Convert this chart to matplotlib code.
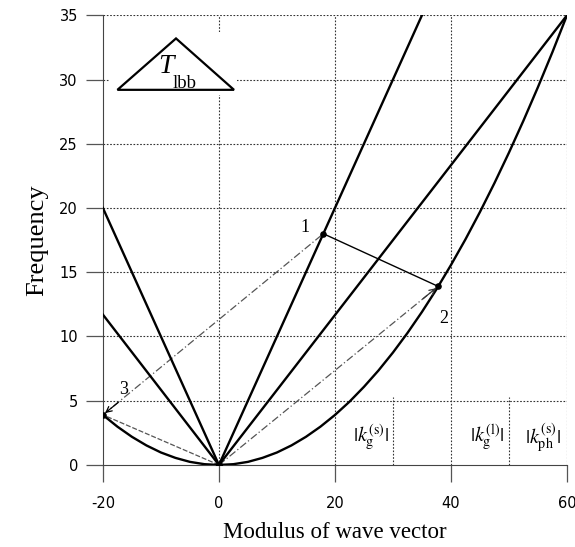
import matplotlib.pyplot as plt
from matplotlib.patches import Polygon, Rectangle

# dispersion branches
k_par = [-20, -17.5, -15, -12.5, -10, -7.5, -5, -2.5, 0, 2.5, 5, 7.5, 10, 12.5, 15, 17.5,
         20, 22.5, 25, 27.5, 30, 32.5, 35, 37.5, 40, 42.5, 45, 47.5, 50, 52.5, 55, 57.5, 60]
w_par = [3.89, 2.98, 2.19, 1.52, 0.97, 0.55, 0.24, 0.06, 0, 0.06, 0.24, 0.55, 0.97, 1.52,
         2.19, 2.98, 3.89, 4.92, 6.08, 7.35, 8.75, 10.27, 11.91, 13.67, 15.56, 17.56,
         19.69, 21.94, 24.31, 26.8, 29.41, 32.14, 35.0]
k_steep = [-20, 0, 35]
w_steep = [20, 0, 35]
k_mid = [-20, 0, 60]
w_mid = [11.7, 0, 35]

# triangle of interacting waves
pts_k = [18, 37.8, -20]
pts_w = [18, 13.9, 3.9]
pts_lab = ['1', '2', '3']

k_marks = [30, 50, 60]
k_mark_labels = [r'$|k_{\rm g}^{\rm (s)}|$', r'$|k_{\rm g}^{\rm (l)}|$', r'$|k_{\rm ph}^{\rm (s)}|$']

plt.rcParams['mathtext.fontset'] = 'stix'
plt.rcParams['axes.unicode_minus'] = False

fig = plt.figure(figsize=(5.75, 5.47), dpi=100)
ax = fig.add_axes([0.179, 0.150, 0.807, 0.822])
ax.set_xlim(-20, 60)
ax.set_ylim(0, 35)

# grid
for y in range(5, 36, 5):
    ax.plot([-20, 60], [y, y], color='#333333', lw=0.8, ls=(0, (1.5, 1.5)), zorder=1)
for x in [0, 20, 40, 60]:
    ax.plot([x, x], [0, 35], color='#333333', lw=0.8, ls=(0, (1.5, 1.5)), zorder=1)
for x in k_marks[:2]:
    ax.plot([x, x], [0, 5.3], color='#333333', lw=0.8, ls=(0, (1.5, 1.5)), zorder=1)

# curves
ax.plot(k_par, w_par, color='black', lw=1.7, zorder=3)
ax.plot(k_steep, w_steep, color='black', lw=1.7, zorder=3)
ax.plot(k_mid, w_mid, color='black', lw=1.7, zorder=3)

# triangle lines
ax.plot([pts_k[2], pts_k[0]], [pts_w[2], pts_w[0]], color='#555555', lw=0.9,
        ls=(0, (6, 2, 1, 2)), zorder=2)
ax.plot([pts_k[0], pts_k[1]], [pts_w[0], pts_w[1]], color='black', lw=1.0, zorder=2)
ax.plot([0, pts_k[1]], [0, pts_w[1]], color='#555555', lw=0.9,
        ls=(0, (6, 2, 1, 2)), zorder=2)
ax.plot([0, pts_k[2]], [0, pts_w[2]], color='#555555', lw=0.9,
        ls=(0, (4, 1.5)), zorder=2)
ax.annotate('', xy=(pts_k[2], pts_w[2]), xytext=(pts_k[2] + 3, pts_w[2] + 1.1),
            arrowprops=dict(arrowstyle='->', color='black', lw=0.9))
ax.annotate('', xy=(pts_k[1], pts_w[1]), xytext=(pts_k[1] - 3, pts_w[1] - 1.1),
            arrowprops=dict(arrowstyle='->', color='#333333', lw=0.9))

ax.scatter(pts_k, pts_w, s=14, color='black', zorder=4)
ax.scatter([0], [0], s=18, color='black', zorder=4)
lab_off = [(-3.2, 0.5), (1.0, -2.5), (3.5, 2.0)]
for xk, yw, lab, (dx, dy) in zip(pts_k, pts_w, pts_lab, lab_off):
    ax.text(xk + dx, yw + dy, lab, fontsize=13, family='Liberation Serif',
            ha='center', va='center')

# |k| labels
lab_x = [26.2, 46.2, 55.9]
for xk, lab in zip(lab_x, k_mark_labels):
    ax.text(xk, 2.1, lab, fontsize=14.5, ha='center', va='center')

# T_lbb triangle box
ax.add_patch(Rectangle((-18.9, 28.8), 22.0, 4.9, facecolor='white', edgecolor='none', zorder=2))
ax.add_patch(Polygon([(-17.5, 29.2), (-7.4, 33.2), (2.6, 29.2)], closed=True,
                     fill=False, edgecolor='black', lw=1.6, zorder=3))
ax.text(-9.2, 31.0, 'T', fontsize=20, family='Liberation Serif', style='italic',
        ha='center', va='center', zorder=4)
ax.text(-5.9, 29.7, 'lbb', fontsize=13.5, family='Liberation Serif',
        ha='center', va='center', zorder=4)

# axes styling
for s in ['top', 'right']:
    ax.spines[s].set_visible(False)
ax.spines['left'].set_color('#444444')
ax.spines['bottom'].set_color('#444444')
ax.set_xticks([-20, 0, 20, 40, 60])
ax.set_yticks(range(0, 36, 5))
ax.tick_params(direction='out', length=12, width=0.9, color='#555555',
               labelsize=10.5, pad=10)
ax.tick_params(axis='y', pad=6)
ax.set_xlabel('Modulus of wave vector', fontsize=16.5, family='Liberation Serif', labelpad=8)
ax.set_ylabel('Frequency', fontsize=19, family='Liberation Serif', labelpad=8)

fig.savefig('out.png', dpi=100)
